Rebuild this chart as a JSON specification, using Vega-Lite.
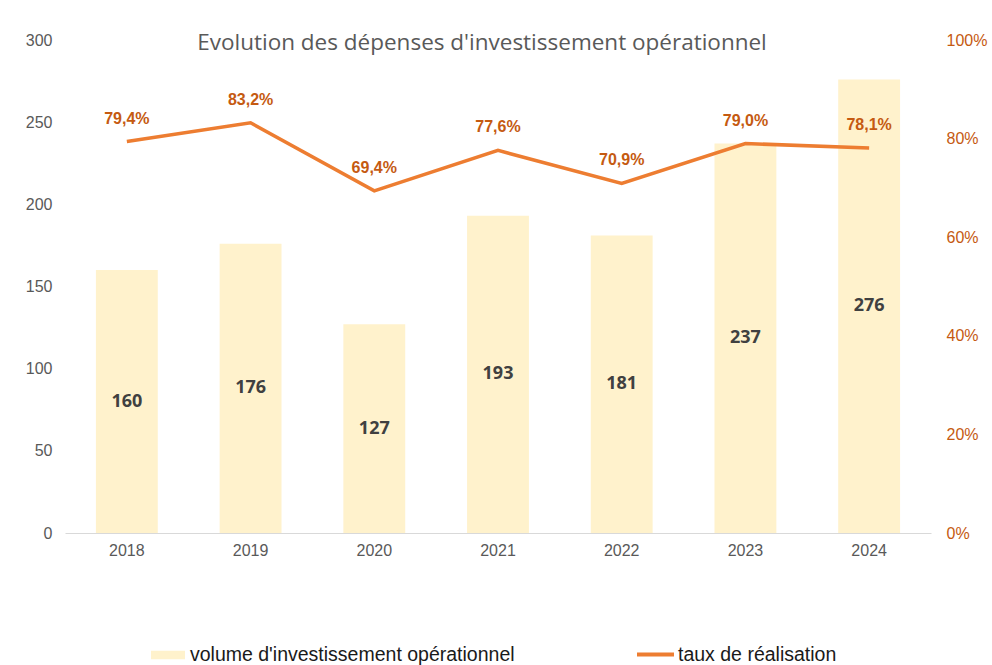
{
  "$schema": "https://vega.github.io/schema/vega-lite/v6.json",
  "autosize": {"type": "none"},
  "width": 866,
  "height": 493,
  "padding": {"left": 65, "top": 40, "right": 61, "bottom": 132},
  "background": "white",
  "config": {"view": {"stroke": null}, "font": "Liberation Sans"},
  "title": {
    "text": "Evolution des dépenses d'investissement opérationnel",
    "font": "Open Sans",
    "fontSize": 22.5,
    "fontWeight": "normal",
    "color": "#595959",
    "anchor": "middle",
    "dx": -16,
    "dy": 26,
    "baseline": "alphabetic",
    "offset": -14
  },
  "data": {
    "values": [
      {"annee": "2018", "volume": 160, "taux": 0.794, "label": "79,4%"},
      {"annee": "2019", "volume": 176, "taux": 0.832, "label": "83,2%"},
      {"annee": "2020", "volume": 127, "taux": 0.694, "label": "69,4%"},
      {"annee": "2021", "volume": 193, "taux": 0.776, "label": "77,6%"},
      {"annee": "2022", "volume": 181, "taux": 0.709, "label": "70,9%"},
      {"annee": "2023", "volume": 237, "taux": 0.790, "label": "79,0%"},
      {"annee": "2024", "volume": 276, "taux": 0.781, "label": "78,1%"}
    ]
  },
  "encoding": {
    "x": {
      "field": "annee",
      "type": "ordinal",
      "scale": {"paddingInner": 0.5, "paddingOuter": 0.25},
      "axis": {
        "title": null,
        "labelAngle": 0,
        "labelFontSize": 16,
        "labelColor": "#595959",
        "labelPadding": 9,
        "ticks": false,
        "domainColor": "#d9d9d9",
        "domainWidth": 1
      }
    }
  },
  "layer": [
    {
      "mark": {"type": "bar"},
      "encoding": {
        "y": {
          "field": "volume",
          "type": "quantitative",
          "scale": {"domain": [0, 300], "nice": false},
          "axis": {
            "title": null,
            "orient": "left",
            "values": [0, 50, 100, 150, 200, 250, 300],
            "grid": false,
            "domain": false,
            "ticks": false,
            "labelFontSize": 16,
            "labelColor": "#595959",
            "labelPadding": 13
          }
        },
        "fill": {
          "datum": "volume d'investissement opérationnel",
          "type": "nominal",
          "scale": {"range": ["#FFF2CC"]},
          "legend": {
            "title": null,
            "orient": "none",
            "legendX": 86,
            "legendY": 598,
            "padding": 0,
            "labelFontSize": 19.5,
            "labelColor": "#1a1a1a",
            "labelLimit": 600,
            "labelOffset": 5,
            "symbolType": "M-1,-0.25H1V0.25H-1Z",
            "symbolSize": 1156,
            "symbolStrokeWidth": 0
          }
        }
      }
    },
    {
      "mark": {
        "type": "text",
        "font": "Open Sans",
        "fontWeight": "bold",
        "fontSize": 18,
        "color": "#404040",
        "baseline": "middle"
      },
      "encoding": {
        "y": {
          "field": "volume",
          "type": "quantitative",
          "scale": {"domain": [0, 600], "nice": false},
          "axis": null
        },
        "text": {"field": "volume", "type": "quantitative"}
      }
    },
    {
      "mark": {"type": "line", "strokeWidth": 3.5},
      "encoding": {
        "y": {
          "field": "taux",
          "type": "quantitative",
          "scale": {"domain": [0, 1], "nice": false},
          "axis": {
            "title": null,
            "orient": "right",
            "values": [0, 0.2, 0.4, 0.6, 0.8, 1],
            "format": ".0%",
            "grid": false,
            "domain": false,
            "ticks": false,
            "labelFontSize": 16,
            "labelColor": "#C55A11",
            "labelPadding": 15
          }
        },
        "stroke": {
          "datum": "taux de réalisation",
          "type": "nominal",
          "scale": {"range": ["#ED7D31"]},
          "legend": {
            "title": null,
            "orient": "none",
            "legendX": 570,
            "legendY": 594,
            "padding": 0,
            "labelFontSize": 19.5,
            "labelColor": "#1a1a1a",
            "labelLimit": 600,
            "labelOffset": 2,
            "symbolType": "stroke",
            "symbolSize": 1369,
            "symbolStrokeWidth": 4
          }
        }
      }
    },
    {
      "mark": {
        "type": "text",
        "fontWeight": "bold",
        "fontSize": 16,
        "color": "#C55A11",
        "baseline": "middle",
        "dy": -23
      },
      "encoding": {
        "y": {
          "field": "taux",
          "type": "quantitative",
          "scale": {"domain": [0, 1], "nice": false},
          "axis": null
        },
        "text": {"field": "label", "type": "nominal"}
      }
    }
  ],
  "resolve": {"scale": {"y": "independent"}}
}
